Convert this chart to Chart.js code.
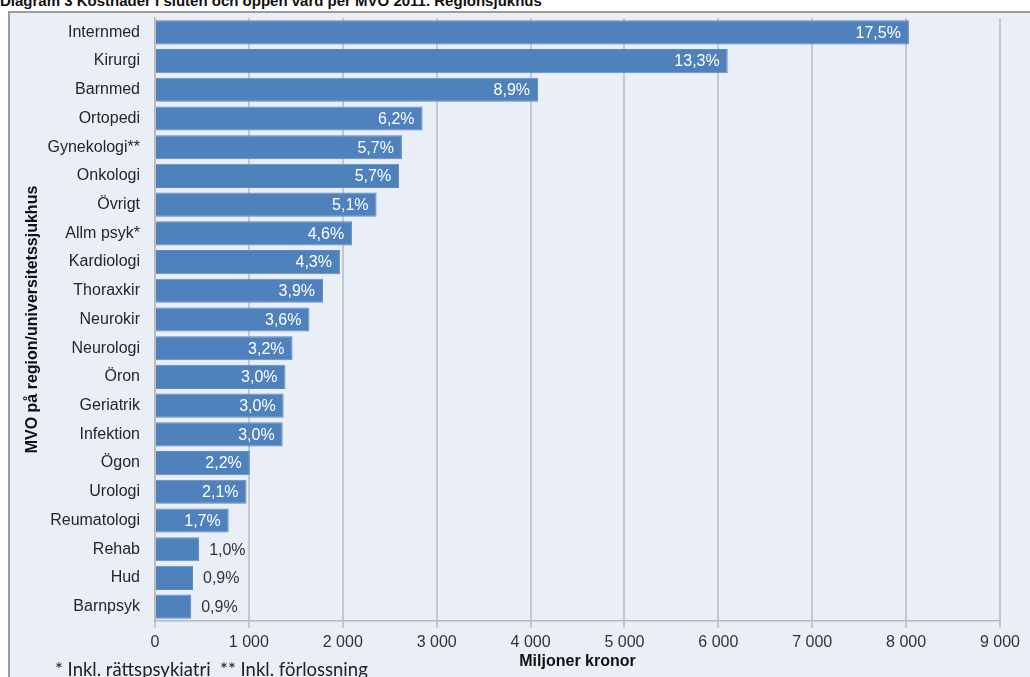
<!DOCTYPE html>
<html>
<head>
<meta charset="utf-8">
<script src="https://cdn.jsdelivr.net/npm/chart.js@4/dist/chart.umd.min.js"></script>
<style>
  html, body { margin: 0; padding: 0; background: #fff; }
  .wrap { position: relative; width: 1030px; height: 677px; overflow: hidden; font-family: 'Liberation Sans', Arial, sans-serif; }
  .panel { position: absolute; left: 8px; top: 11px; right: 0; bottom: 0; background: #e9eef7; border-left: 2px solid #9c9c9c; border-top: 2px solid #9c9c9c; }
  .title { position: absolute; left: 0; top: -8px; font-size: 15px; font-weight: bold; color: #111; white-space: nowrap; }
  .note { position: absolute; left: 55px; top: 658px; font-family: Lato, 'Open Sans', sans-serif; font-size: 18.5px; color: #222; white-space: nowrap; }
  canvas { position: absolute; left: 0; top: 0; }
</style>
</head>
<body>
<div class="wrap">
  <div class="title">Diagram 3 Kostnader i sluten och öppen vård per MVO 2011. Regionsjukhus</div>
  <div class="panel"></div>
  <canvas id="c" width="1030" height="677"></canvas>
  <div class="note">* Inkl. rättspsykiatri&nbsp;&nbsp;** Inkl. förlossning</div>
</div>
<script>
// MVO categories, cost in million SEK, and share of total (%)
const categories = ['Internmed', 'Kirurgi', 'Barnmed', 'Ortopedi', 'Gynekologi**', 'Onkologi', 'Övrigt',
  'Allm psyk*', 'Kardiologi', 'Thoraxkir', 'Neurokir', 'Neurologi', 'Öron', 'Geriatrik', 'Infektion',
  'Ögon', 'Urologi', 'Reumatologi', 'Rehab', 'Hud', 'Barnpsyk']
const costs = [8030, 6100, 4080, 2850, 2630, 2600, 2360, 2100, 1970, 1790, 1645, 1465, 1390, 1370, 1360,
  1010, 975, 785, 470, 405, 385]
const shares = [17.5, 13.3, 8.9, 6.2, 5.7, 5.7, 5.1, 4.6, 4.3, 3.9, 3.6, 3.2, 3.0, 3.0, 3.0,
  2.2, 2.1, 1.7, 1.0, 0.9, 0.9]
const xTicks = [0, 1000, 2000, 3000, 4000, 5000, 6000, 7000, 8000, 9000]

const fmtShare = v => v.toFixed(1).replace('.', ',') + '%'
const fmtTick = v => v === 0 ? '0' : (v / 1000) + ' 000'

// percentage labels: white inside long bars, dark outside short ones
const shareLabels = {
  id: 'shareLabels',
  afterDatasetsDraw(chart) {
    const ctx = chart.ctx
    const meta = chart.getDatasetMeta(0)
    ctx.save()
    ctx.font = '16px "Liberation Sans", Arial, sans-serif'
    ctx.textBaseline = 'middle'
    meta.data.forEach((bar, i) => {
      const txt = fmtShare(shares[i])
      if (shares[i] >= 1.5) {
        ctx.fillStyle = '#ffffff'
        ctx.textAlign = 'right'
        ctx.fillText(txt, bar.x - 8, bar.y + 1)
      } else {
        ctx.fillStyle = '#333333'
        ctx.textAlign = 'left'
        ctx.fillText(txt, bar.x + 10, bar.y + 1)
      }
    })
    ctx.restore()
  }
}

Chart.defaults.font.family = '"Liberation Sans", Arial, sans-serif'
Chart.defaults.font.size = 16
Chart.defaults.color = '#262626'

new Chart(document.getElementById('c'), {
  type: 'bar',
  data: {
    labels: categories,
    datasets: [{
      data: costs,
      backgroundColor: '#4f81bd',
      borderColor: '#5b8ac4',
      borderWidth: 1,
      categoryPercentage: 1,
      barPercentage: 0.84
    }]
  },
  options: {
    indexAxis: 'y',
    responsive: false,
    animation: false,
    layout: { padding: { left: 8, right: 30, top: 18, bottom: 0 } },
    plugins: { legend: { display: false }, tooltip: { enabled: false } },
    scales: {
      x: {
        min: 0, max: 9000,
        afterFit(s) { s.height = 56 },
        afterBuildTicks(s) { s.ticks = xTicks.map(v => ({ value: v })) },
        ticks: { padding: 5, maxRotation: 0, callback: v => fmtTick(v), color: '#333' },
        grid: { color: '#c4c7cc', lineWidth: 2, tickLength: 7, tickColor: '#b8b8b8', tickWidth: 1.5 },
        border: { display: true, color: '#b8b8b8', width: 1.5 },
        title: { display: true, text: 'Miljoner kronor', font: { weight: 'bold', size: 16 }, color: '#111', padding: { top: 0, bottom: 6 } }
      },
      y: {
        afterFit(s) { s.width = 147; s.paddingTop = 0; s.paddingBottom = 0 },
        ticks: { padding: 15, color: '#262626' },
        grid: { display: false, drawTicks: false },
        border: { display: true, color: '#b8b8b8', width: 1.5 },
        title: { display: true, text: 'MVO på region/universitetssjukhus', font: { weight: 'bold', size: 16 }, color: '#111', padding: { top: 15, bottom: 0 } }
      }
    }
  },
  plugins: [shareLabels]
})
</script>
</body>
</html>
